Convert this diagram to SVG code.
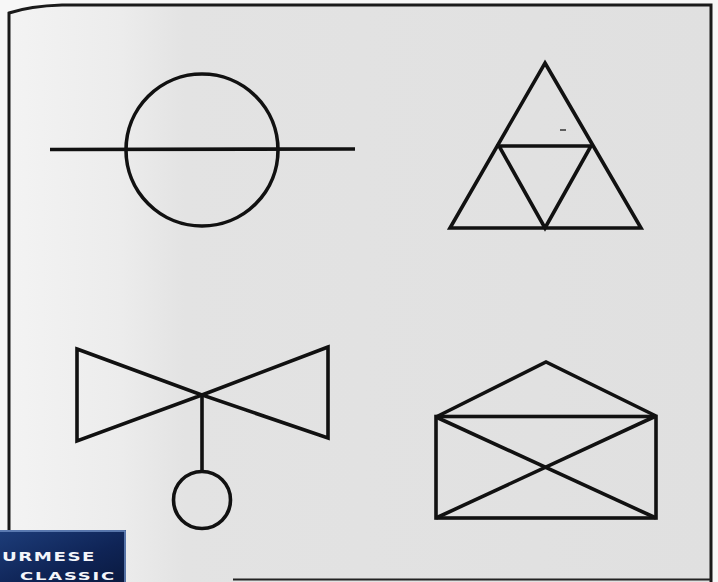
<svg xmlns="http://www.w3.org/2000/svg" width="718" height="582" viewBox="0 0 718 582">
  <defs>
    <linearGradient id="bg" x1="0" y1="0" x2="1" y2="0">
      <stop offset="0" stop-color="#f3f3f3"/>
      <stop offset="0.16" stop-color="#ececec"/>
      <stop offset="0.25" stop-color="#e3e3e3"/>
      <stop offset="1" stop-color="#e0e0e0"/>
    </linearGradient>
    <linearGradient id="logo" x1="0" y1="0" x2="1" y2="1">
      <stop offset="0" stop-color="#1d3d7a"/>
      <stop offset="0.6" stop-color="#0f2456"/>
      <stop offset="1" stop-color="#0a1a40"/>
    </linearGradient>
  </defs>
  <style>
    .ln { fill: none; stroke: #111; stroke-width: 3.6; stroke-linejoin: miter; stroke-linecap: butt; }
    .frame { fill: none; stroke: #1a1a1a; stroke-width: 3; }
    .logotxt { font-family: "DejaVu Sans", "Liberation Sans", sans-serif; font-weight: bold; fill: #f4f6fb; letter-spacing: 1px; }
  </style>
  <rect x="0" y="0" width="718" height="582" fill="#f7f7f7"/>
  <path d="M9,13 Q30,6 62,5 L711,5 L711,582 L9,582 Z" fill="url(#bg)"/>
  <g id="frame">
    <path class="frame" d="M9,582 L9,13 Q30,6 62,5 L711,5 L711,582"/>
    <line x1="233" y1="579.5" x2="711" y2="579.5" stroke="#222" stroke-width="2"/>
  </g>

  <g id="circle-with-line">
    <circle class="ln" cx="202" cy="150" r="76"/>
    <line class="ln" x1="50" y1="149.5" x2="355" y2="149"/>
  </g>

  <g id="triangle">
    <polygon class="ln" points="545,63 641,228 450,228"/>
    <polygon class="ln" points="499,146 591,146 545,228"/>
    <line x1="560" y1="130" x2="566" y2="130" stroke="#333" stroke-width="1.5"/>
  </g>

  <g id="bowtie">
    <polygon class="ln" points="77,349 202,395 77,441"/>
    <polygon class="ln" points="328,347 202,395 328,438"/>
    <line class="ln" x1="202" y1="395" x2="202" y2="472"/>
    <circle class="ln" cx="202" cy="500" r="28.5"/>
  </g>

  <g id="envelope">
    <rect class="ln" x="436" y="416.5" width="220" height="101.5"/>
    <polyline class="ln" points="436,417 546,362 656,416"/>
    <line class="ln" x1="436" y1="417" x2="656" y2="518"/>
    <line class="ln" x1="656" y1="416" x2="436" y2="518"/>
  </g>

  <g id="logo">
    <rect x="0" y="530" width="126" height="52" fill="url(#logo)"/>
    <path d="M0,531 L125,531 L125,582" fill="none" stroke="#6f8fc4" stroke-width="1.5"/>
    <text class="logotxt" x="2" y="561" font-size="12" textLength="94" lengthAdjust="spacingAndGlyphs">URMESE</text>
    <text class="logotxt" x="20" y="580" font-size="10" textLength="96" lengthAdjust="spacingAndGlyphs">CLASSIC</text>
  </g>
</svg>
